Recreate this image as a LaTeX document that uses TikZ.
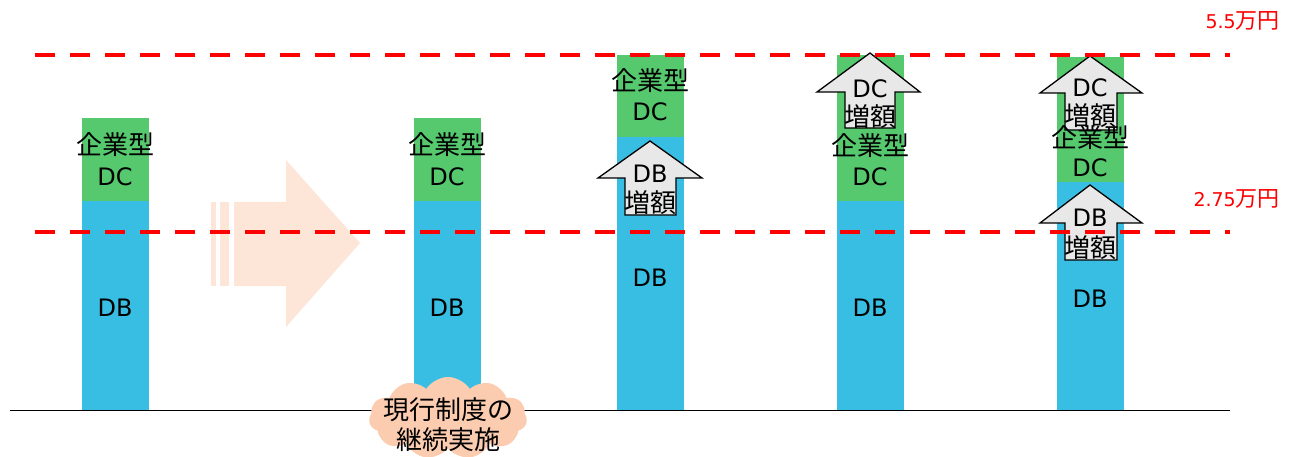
\documentclass[tikz,border=0pt]{standalone}
\usepackage{fontspec}
\setmainfont{DejaVu Sans}
\newfontfamily\cjk{Noto Sans CJK JP}
\usetikzlibrary{shapes.symbols}
\definecolor{dcgreen}{RGB}{86,200,110}
\definecolor{dbblue}{RGB}{56,190,227}
\definecolor{peach}{RGB}{253,229,216}
\definecolor{cloudfill}{RGB}{252,204,176}
\definecolor{arrowgray}{RGB}{232,232,232}
\tikzset{
  lbl/.style={font=\fontsize{24}{28}\selectfont, inner sep=0pt, align=center},
  jlbl/.style={font=\cjk\fontsize{26}{30}\selectfont, inner sep=0pt, align=center},
  redlbl/.style={font=\fontsize{19}{22}\selectfont, text=red, inner sep=0pt, anchor=east},
  limitline/.style={red, line width=4pt, dash pattern=on 20pt off 15pt},
  uparrow/.style={draw=black, fill=arrowgray, line width=1.3pt, line join=miter},
}
\newcommand{\yen}[1]{#1{\cjk\fontsize{22}{24}\selectfont 万円}}
\begin{document}
\begin{tikzpicture}[x=1pt,y=-1pt]
\useasboundingbox (0,0) rectangle (1295,457);
% faded arrow
\fill[peach] (211,202) rectangle (216,286);
\fill[peach] (220,202) rectangle (229,286);
\fill[peach] (234,202) -- (286,202) -- (286,160) -- (360,243) -- (286,327) -- (286,286) -- (234,286) -- cycle;
% bars
\fill[dcgreen] (82,118) rectangle (149,201);
\fill[dbblue] (82,201) rectangle (149,410);
\fill[dcgreen] (414,118) rectangle (481,201);
\fill[dbblue] (414,201) rectangle (481,410);
\fill[dcgreen] (617,55) rectangle (684,137);
\fill[dbblue] (617,137) rectangle (684,410);
\fill[dcgreen] (837,55) rectangle (904,201);
\fill[dbblue] (837,201) rectangle (904,410);
\fill[dcgreen] (1057,57) rectangle (1124,182);
\fill[dbblue] (1057,182) rectangle (1124,410);
% baseline
\coordinate (bl) at (10,410);
\coordinate (br) at (1230,410);
\draw[black, line width=1pt] (bl) -- (br);
% up arrows
\draw[uparrow] (650,141) -- (702,178) -- (676,178) -- (676,215) -- (625,215) -- (625,178) -- (598,178) -- cycle;
\draw[uparrow] (870,53) -- (920,92) -- (895,92) -- (895,128) -- (845,128) -- (845,92) -- (817,92) -- cycle;
\draw[uparrow] (1090,56) -- (1142,93) -- (1117,93) -- (1117,130) -- (1065,130) -- (1065,93) -- (1040,93) -- cycle;
\draw[uparrow] (1090,185) -- (1142,223) -- (1117,223) -- (1117,260) -- (1065,260) -- (1065,223) -- (1040,223) -- cycle;
% bar texts
\node[jlbl] (c1) at (115,145) {企業型};
\node[lbl] (d1) at (115,177) {DC};
\node[lbl] (b1) at (115,308) {DB};
\node[jlbl] (c2) at (447,145) {企業型};
\node[lbl] (d2) at (447,177) {DC};
\node[lbl] (b2) at (447,308) {DB};
\node[jlbl] (c3) at (650,81) {企業型};
\node[lbl] (d3) at (650,112) {DC};
\node[lbl] (a3a) at (650,174) {DB};
\node[jlbl] (a3b) at (650,203) {増額};
\node[lbl] (b3) at (650,278) {DB};
\node[lbl] (a4a) at (870,89) {DC};
\node[jlbl] (a4b) at (870,117) {増額};
\node[jlbl] (c4) at (870,146) {企業型};
\node[lbl] (d4) at (870,177) {DC};
\node[lbl] (b4) at (870,308) {DB};
\node[lbl] (a5a) at (1090,88) {DC};
\node[jlbl] (a5b) at (1090,116) {増額};
\node[jlbl] (c5) at (1090,138) {企業型};
\node[lbl] (d5) at (1090,168) {DC};
\node[lbl] (a5c) at (1090,218) {DB};
\node[jlbl] (a5d) at (1090,248) {増額};
\node[lbl] (b5) at (1090,299) {DB};
% dashed lines
\coordinate (t1) at (35,55);
\coordinate (t2) at (1230,55);
\coordinate (m1) at (35,232);
\coordinate (m2) at (1230,232);
\draw[limitline] (t1) -- (t2);
\draw[limitline] (m1) -- (m2);
\node[redlbl] (l55) at (1280,21) {\yen{5.5}};
\node[redlbl] (l275) at (1280,199) {\yen{2.75}};
% cloud
\node[cloud, cloud puffs=11, cloud puff arc=115, aspect=2, fill=cloudfill, draw=none, minimum width=158pt, minimum height=82pt, inner sep=0pt] (cl) at (448,418) {};
\node[jlbl] (cltext) at (448,425) {現行制度の\\継続実施};
\end{tikzpicture}
\end{document}
